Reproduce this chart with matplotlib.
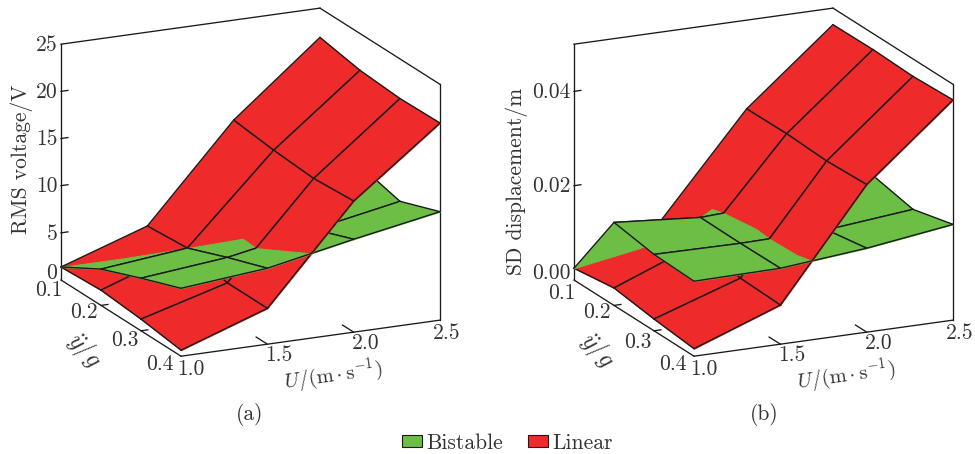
import numpy as np
import matplotlib
matplotlib.use("Agg")
import matplotlib.pyplot as plt
from matplotlib.patches import Patch
from mpl_toolkits.mplot3d import proj3d
from mpl_toolkits.mplot3d.art3d import Poly3DCollection

plt.rcParams['font.family'] = ['cmr10', 'DejaVu Serif']
plt.rcParams['mathtext.fontset'] = 'cm'
plt.rcParams['axes.unicode_minus'] = False

u_vals = [1.0, 1.5, 2.0, 2.5]
y_vals = [0.1, 0.2, 0.3, 0.4]

# rows are U, columns are y
a_linear = [[1.38, 1.62, 1.24, 0.64],
            [4.45, 4.80, 3.80, 3.80],
            [14.4, 13.9, 13.6, 13.9],
            [21.9, 21.1, 20.8, 20.9]]
a_bistable = [[1.38, 3.85, 5.58, 7.20],
              [2.20, 4.80, 6.50, 8.05],
              [5.00, 8.50, 8.20, 9.85],
              [9.00, 11.0, 9.90, 11.5]]
b_linear = [[0.0025, 0.0037, 0.0025, 0.0016],
            [0.0099, 0.0108, 0.0086, 0.0083],
            [0.0312, 0.0313, 0.0309, 0.0313],
            [0.0465, 0.0466, 0.0463, 0.0467]]
b_bistable = [[0.0025, 0.0176, 0.0162, 0.0159],
              [0.0010, 0.0161, 0.0160, 0.0161],
              [0.0153, 0.0170, 0.0163, 0.0178],
              [0.0180, 0.0199, 0.0181, 0.0203]]

a_zticks = [0, 5, 10, 15, 20, 25]
b_zticks = [0.00, 0.02, 0.04]

RED = '#EE2A2A'
GREEN = '#6DBE45'
LINE = '#1a1a1a'
TEXT = '#333333'
FS = 15.5
W, H = 975, 454


def project(ax, u, y, z):
    # data point -> figure pixels (y measured from the top)
    ax.M = ax.get_proj()
    xp, yp, _ = proj3d.proj_transform(u, y, z, ax.M)
    px = ax.transData.transform((xp, yp))
    return px[0], H - px[1]


def fit_box(ax, zmax, left_px, bottom_px, right_px):
    # put the floor corner (U=1, y=0.1) and scale the box to the wanted pixels
    side = 400.0
    ax.set_position([0.1, 0.1, side / W, side / H])
    ax.apply_aspect()
    x0, _ = project(ax, 1.0, 0.1, 0)
    x1, _ = project(ax, 2.5, 0.4, 0)
    side = side * (right_px - left_px) / (x1 - x0)
    ax.set_position([0.1, 0.1, side / W, side / H])
    ax.apply_aspect()
    x0, y0 = project(ax, 1.0, 0.1, 0)
    ax.set_position([0.1 + (left_px - x0) / W, 0.1 + (y0 - bottom_px) / H, side / W, side / H])
    ax.apply_aspect()


def split_tri(tri):
    # cut a triangle (u, y, linear, bistable) where the two surfaces cross
    pieces = []
    for sign in (-1, 1):
        poly = []
        for i in range(3):
            p, q = tri[i], tri[(i + 1) % 3]
            dp, dq = p[3] - p[2], q[3] - q[2]
            if sign * dp >= 0:
                poly.append(p)
            if dp * dq < 0:
                poly.append(p + (q - p) * dp / (dp - dq))
        if len(poly) >= 3:
            pieces.append((sign, np.array(poly)))
    # far piece first
    pieces.sort(key=lambda s: -0.42 * (s[1][:, 0].mean() - 1) / 1.5 + 0.906 * (s[1][:, 1].mean() - 0.1) / 0.3)
    return pieces


def draw_surfaces(ax, linear, bistable):
    linear = np.array(linear)
    bistable = np.array(bistable)
    order = 10
    # back to front: high U / low y first
    for i in range(len(u_vals) - 2, -1, -1):
        for j in range(len(y_vals) - 1):
            c = {}
            for a, b in [(i, j), (i + 1, j), (i, j + 1), (i + 1, j + 1)]:
                c[(a, b)] = np.array([u_vals[a], y_vals[b], linear[a, b], bistable[a, b]])
            t1 = [c[(i, j)], c[(i + 1, j)], c[(i, j + 1)]]
            t2 = [c[(i + 1, j)], c[(i + 1, j + 1)], c[(i, j + 1)]]
            for tri in (t1, t2):
                for sign, poly in split_tri(tri):
                    # lower surface first, upper one over it
                    layers = [(2, RED), (3, GREEN)] if sign > 0 else [(3, GREEN), (2, RED)]
                    for col, color in layers:
                        verts = poly[:, [0, 1, col]]
                        coll = Poly3DCollection([verts], facecolor=color, edgecolor=color,
                                                linewidth=0.7, zorder=order)
                        ax.add_collection3d(coll, autolim=False)
                        order += 1
                        n = len(verts)
                        for k in range(n):
                            p, q = verts[k], verts[(k + 1) % n]
                            on_u = np.isclose(p[0], q[0]) and np.isclose(p[0], u_vals).any()
                            on_y = np.isclose(p[1], q[1]) and np.isclose(p[1], y_vals).any()
                            if on_u or on_y:
                                ax.plot([p[0], q[0]], [p[1], q[1]], [p[2], q[2]], color=LINE,
                                        lw=1.0, zorder=order, solid_capstyle='round')
                        order += 1


def draw_box(ax, zmax, zticks):
    box = [([1, 1], [0.1, 0.4], [0, 0]),
           ([1, 2.5], [0.4, 0.4], [0, 0]),
           ([1, 1], [0.1, 0.1], [0, zmax]),
           ([2.5, 2.5], [0.4, 0.4], [0, zmax]),
           ([1, 2.5], [0.1, 0.1], [zmax, zmax]),
           ([2.5, 2.5], [0.1, 0.4], [zmax, zmax])]
    for xs, ys, zs in box:
        ax.plot(xs, ys, zs, color=LINE, lw=0.95, zorder=1)
    for u in u_vals[1:-1]:
        ax.plot([u, u], [0.4, 0.372], [0, 0], color=LINE, lw=0.95, zorder=1)
    for y in y_vals[1:-1]:
        ax.plot([1, 1.04], [y, y], [0, 0], color=LINE, lw=0.95, zorder=1)
    for z in zticks[1:]:
        if z < zmax:
            ax.plot([1, 1.04], [0.1, 0.1], [z, z], color=LINE, lw=0.95, zorder=1)


def put_text(fig, x, y, s, size=FS, **kw):
    kw.setdefault('ha', 'center')
    kw.setdefault('va', 'center')
    fig.text(x / W, 1 - y / H, s, color=TEXT, fontsize=size, **kw)


def panel(fig, linear, bistable, zmax, zticks, zfmt, left_px, ylabel, ylabel_xy, ylab_off, name, name_xy):
    ax = fig.add_axes([0.1, 0.1, 0.4, 0.4], projection='3d', proj_type='ortho', computed_zorder=False)
    ax.set_xlim(1.0, 2.5, view_margin=0)
    ax.set_ylim(0.4, 0.1, view_margin=0)
    ax.set_zlim(0, zmax, view_margin=0)
    ax.set_box_aspect((286, 283, 247))
    ax.view_init(elev=17.3, azim=-115.1)
    ax.set_axis_off()
    ax.patch.set_alpha(0)
    fit_box(ax, zmax, left_px, 280, left_px + 379)

    draw_box(ax, zmax, zticks)
    draw_surfaces(ax, linear, bistable)

    # tick labels placed from the tick positions
    u_off = [(10, 13), (12, 11), (12, 11), (7, 13)]
    for u, off in zip(u_vals, u_off):
        px, py = project(ax, u, 0.4, 0)
        put_text(fig, px + off[0], py + off[1], f"{u:.1f}")
    for y, off in zip(y_vals, ylab_off):
        px, py = project(ax, 1.0, y, 0)
        put_text(fig, px + off[0], py + off[1], f"{y:.1f}")
    for z in zticks:
        px, py = project(ax, 1.0, 0.1, z)
        put_text(fig, px - 3.5, py - (7 if z == 0 else -1), zfmt.format(z), ha='right')

    put_text(fig, ylabel_xy[0], ylabel_xy[1], ylabel, rotation=90)
    put_text(fig, left_px + 23, 350, r'$\ddot{y}/g$', size=17.5, rotation=-48)
    put_text(fig, left_px + 272, 375, r'$U/(\mathrm{m\cdot s^{-1}})$', size=14.8, rotation=8)
    put_text(fig, name_xy[0], name_xy[1], name)
    return ax


fig = plt.figure(figsize=(W / 100, H / 100), dpi=100)

panel(fig, a_linear, a_bistable, 25, a_zticks, "{:d}", 61, "RMS voltage/V", (22, 159),
      [(-12, 10), (-17, 7), (-16, 9), (-21, 8)], "(a)", (250, 415))
panel(fig, b_linear, b_bistable, 0.05, b_zticks, "{:.2f}", 574, "SD displacement/m", (517, 181),
      [(-12, 13), (-17, 7), (-16, 11), (-21, 8)], "(b)", (764, 415))

handles = [Patch(facecolor=GREEN, edgecolor=LINE, linewidth=0.8, label="Bistable"),
           Patch(facecolor=RED, edgecolor=LINE, linewidth=0.8, label="Linear")]
fig.legend(handles=handles, loc='center', bbox_to_anchor=(507.5 / W, 1 - 443 / H), ncol=2, frameon=False,
           fontsize=FS, labelcolor=TEXT, handlelength=0.93, handleheight=0.5,
           handletextpad=0.2, columnspacing=1.16, borderpad=0)

fig.savefig("out.png", dpi=100)
